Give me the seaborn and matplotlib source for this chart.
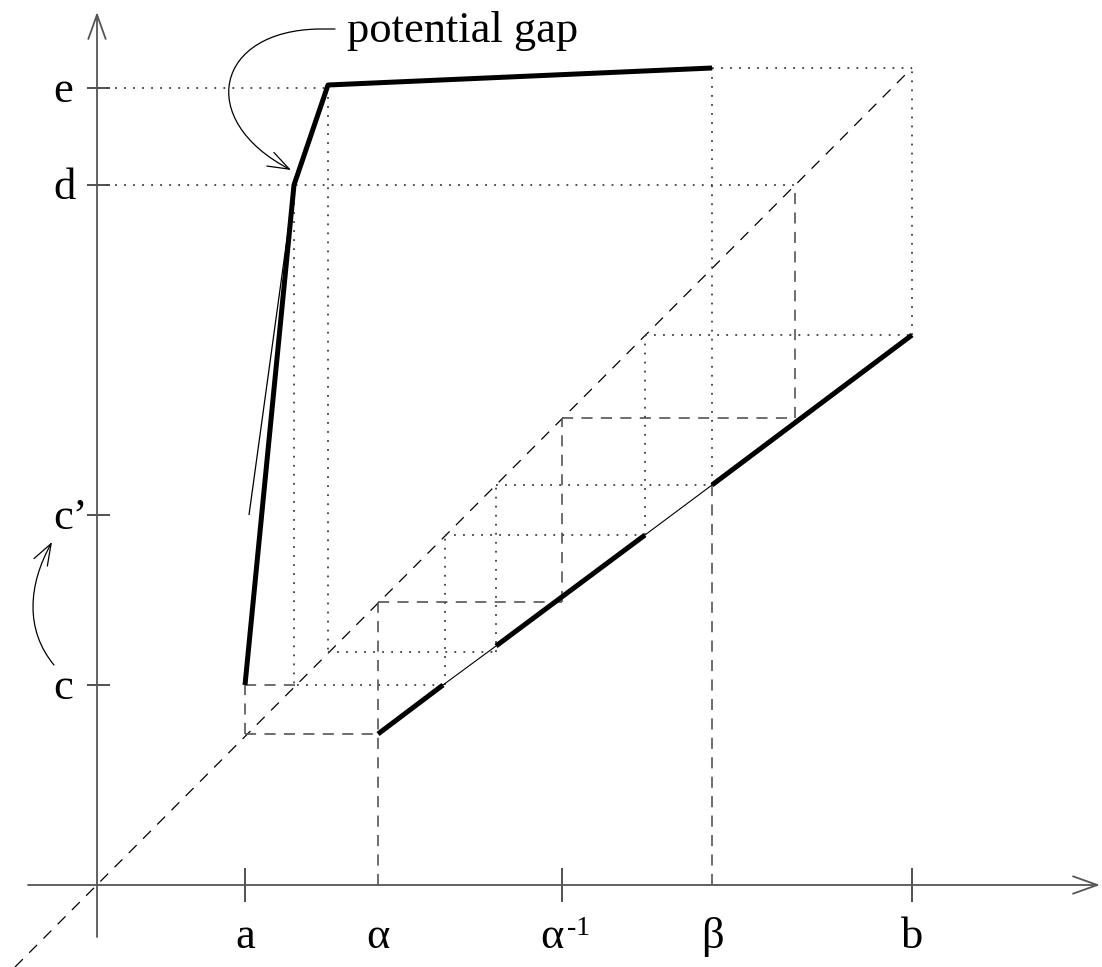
import numpy as np
import matplotlib
matplotlib.use("Agg")
import matplotlib.pyplot as plt
from matplotlib.path import Path
from matplotlib.patches import FancyArrowPatch
import seaborn as sns

# key abscissae / ordinates of the sketch (origin at the axes crossing)
a, alpha, alpha_inv, beta, b = 148, 281, 465, 615, 815
c, c_prime, d, e = 200, 370, 700, 797
x_labels = ["a", "α", "α", "β", "b"]
x_label_pos = [a, alpha, alpha_inv, beta, b]
x_ticks = [a, alpha_inv, b]
y_labels = ["e", "d", "c’", "c"]
y_ticks = [e, d, c_prime, c]

# upper (steep) piece of the map
upper_x = [148, 197, 231, 615]
upper_y = [200, 700, 800, 817]
# the thin "potential gap" line next to it
gap_x = [152, 196]
gap_y = [370, 690]

# lower line, split into thick / thin pieces
lower_x = [281, 346, 399, 548, 615, 815]
lower_y = [151, 200, 239, 350, 400, 550]
lower_thick = [True, False, True, False, True]

# staircase (dashed) and construction lines (dotted)
dashed_segs = [
    ([148, 148], [151, 200]), ([148, 281], [151, 151]),
    ([148, 200], [200, 200]),
    ([281, 281], [0, 283]), ([281, 465], [283, 283]),
    ([465, 465], [283, 467]), ([465, 698], [467, 467]),
    ([698, 698], [467, 700]), ([615, 615], [0, 400]),
]
dotted_segs = [
    ([0, 231], [797, 797]), ([231, 231], [797, 233]), ([231, 399], [233, 233]),
    ([399, 399], [233, 398]), ([399, 615], [400, 400]),
    ([0, 698], [700, 700]), ([197, 197], [700, 200]), ([200, 348], [200, 200]),
    ([348, 348], [200, 350]), ([348, 548], [350, 350]), ([548, 548], [350, 550]),
    ([548, 815], [550, 550]), ([815, 815], [550, 817]), ([615, 815], [817, 817]),
    ([615, 615], [400, 817]),
]

sns.set_theme(style="white")
plt.rcParams["font.family"] = ["Liberation Serif", "DejaVu Serif"]
plt.rcParams["text.color"] = "black"
plt.rcParams["lines.scale_dashes"] = False
plt.rcParams["lines.solid_capstyle"] = "butt"

fig = plt.figure(figsize=(11.02, 9.67), dpi=100)
ax = fig.add_axes([0, 0, 1, 1])
ax.set_xlim(-97, 1005)
ax.set_ylim(-82, 885)
ax.axis("off")

axis_col = "#555555"
dash_col = "#555555"
dot_col = "#404040"

# axes with open arrow heads
ax.annotate("", xy=(1003, 0), xytext=(-69, 0),
            arrowprops=dict(arrowstyle="->,head_length=0.7,head_width=0.25",
                            lw=1.3, color=axis_col, mutation_scale=25,
                            shrinkA=0, shrinkB=0))
ax.annotate("", xy=(0, 873), xytext=(0, -52),
            arrowprops=dict(arrowstyle="->,head_length=0.7,head_width=0.25",
                            lw=1.3, color=axis_col, mutation_scale=25,
                            shrinkA=0, shrinkB=0))
for xt in x_ticks:
    ax.plot([xt, xt], [-17, 17], color="#333333", lw=1.2)
for yt in y_ticks:
    ax.plot([-10, 13], [yt, yt], color="#333333", lw=1.2)

# diagonal y = x
ax.plot([-82, 815], [-82, 817], color="black", lw=0.9, dashes=(8, 6.5))

for xs, ys in dashed_segs:
    ax.plot(xs, ys, color=dash_col, lw=1.2, dashes=(8, 6))
for xs, ys in dotted_segs:
    ax.plot(xs, ys, color=dot_col, lw=1.3, dashes=(1.3, 5.2))

# the map itself
sns.lineplot(x=upper_x, y=upper_y, sort=False, estimator=None,
             color="black", lw=3.6, ax=ax)
ax.plot(gap_x, gap_y, color="black", lw=0.9)
for i, thick in enumerate(lower_thick):
    ax.plot(lower_x[i:i + 2], lower_y[i:i + 2], color="black",
            lw=3.6 if thick else 0.8)

# labels
fs = 32
for lab, xp in zip(x_labels, x_label_pos):
    xx = xp - 10 if xp == alpha_inv else xp
    ax.text(xx, -63, lab, ha="center", va="baseline", fontsize=fs, color="black")
ax.text(alpha_inv + 5, -50, "-1", ha="left", va="baseline", fontsize=20, color="black")
for lab, yt in zip(y_labels, y_ticks):
    ax.text(-44, yt - 14, lab, ha="left", va="baseline", fontsize=fs, color="black")

ax.text(250, 843, "potential gap", ha="left", va="baseline", fontsize=fs, color="black")

# curved pointers
gap_arrow = Path([(238, 856), (223, 856), (118, 855), (98, 765), (194, 715)],
                 [Path.MOVETO, Path.LINETO, Path.CURVE4, Path.CURVE4, Path.CURVE4])
ax.add_patch(FancyArrowPatch(path=gap_arrow,
                             arrowstyle="->,head_length=0.7,head_width=0.25",
                             mutation_scale=22, lw=0.9, color="black"))
c_arrow = Path([(-43, 220), (-72, 255), (-69, 300), (-45, 343)],
               [Path.MOVETO, Path.CURVE4, Path.CURVE4, Path.CURVE4])
ax.add_patch(FancyArrowPatch(path=c_arrow,
                             arrowstyle="->,head_length=0.7,head_width=0.25",
                             mutation_scale=22, lw=0.9, color="black"))

fig.savefig("out.png", dpi=100, facecolor="white")
